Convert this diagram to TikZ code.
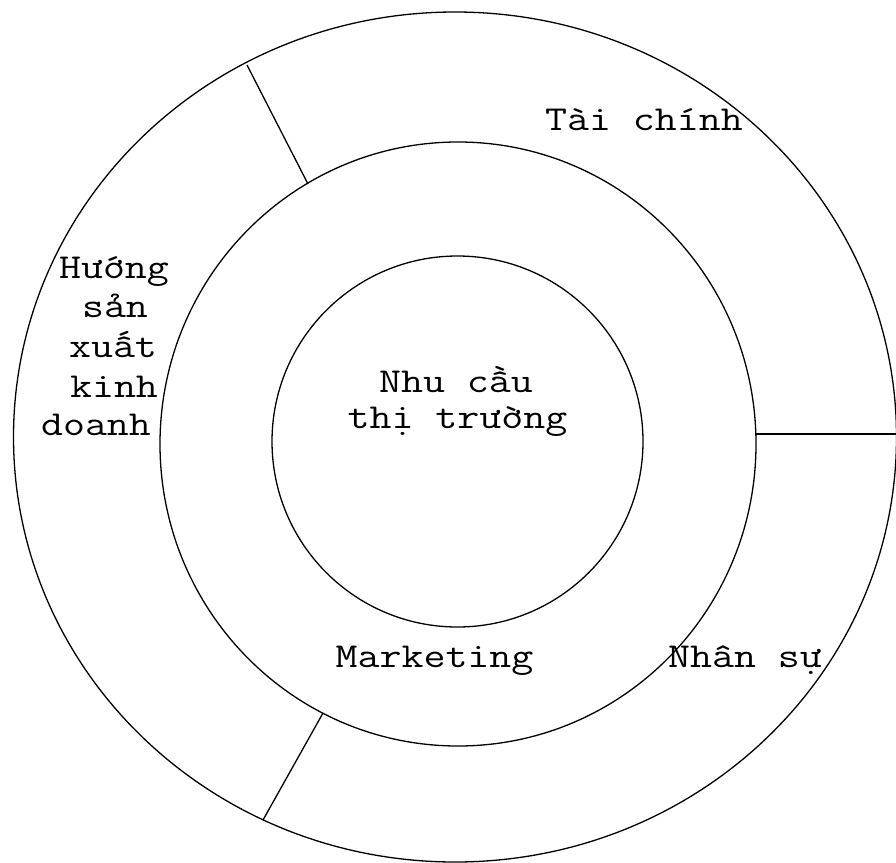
\documentclass[tikz,border=0pt]{standalone}
\usepackage{fontspec}
\setmainfont{Latin Modern Mono}[FakeStretch=1.22]
\begin{document}
\begin{tikzpicture}[x=1pt,y=-1pt,
  ring/.style={draw=black,line width=1.3pt},
  divider/.style={draw=black,line width=1.3pt},
  lbl/.style={anchor=base,inner sep=0pt,font=\fontsize{35}{37}\selectfont}]
\useasboundingbox (0,0) rectangle (896,862);
% rings
\draw[ring] (455,437) ellipse [x radius=441.5, y radius=425];
\draw[ring] (458,444) ellipse [x radius=298, y radius=302];
\draw[ring] (457.5,441.5) circle [radius=185.5];
% divider end points
\coordinate (d1o) at (247,65);
\coordinate (d1i) at (308,184);
\coordinate (d2i) at (323,713);
\coordinate (d3o) at (263,820);
\coordinate (d4i) at (756,434);
\coordinate (d4o) at (897,434);
\draw[divider] (d1o) -- (d1i);
\draw[divider] (d2i) -- (d3o);
\draw[divider] (d4i) -- (d4o);
% labels
\node[lbl] (tc) at (644,130) {Tài chính};
\node[lbl] (nc1) at (456,392) {Nhu cầu};
\node[lbl] (nc2) at (457.5,428) {thị trường};
\node[lbl] (mk) at (434.5,667) {Marketing};
\node[lbl] (ns) at (745,667) {Nhân sự};
\node[lbl] (h1) at (114,278) {Hướng};
\node[lbl] (h2) at (115,317) {sản};
\node[lbl] (h3) at (113,357) {xuất};
\node[lbl] (h4) at (114,397) {kinh};
\node[lbl] (h5) at (96,435) {doanh};
\end{tikzpicture}
\end{document}
